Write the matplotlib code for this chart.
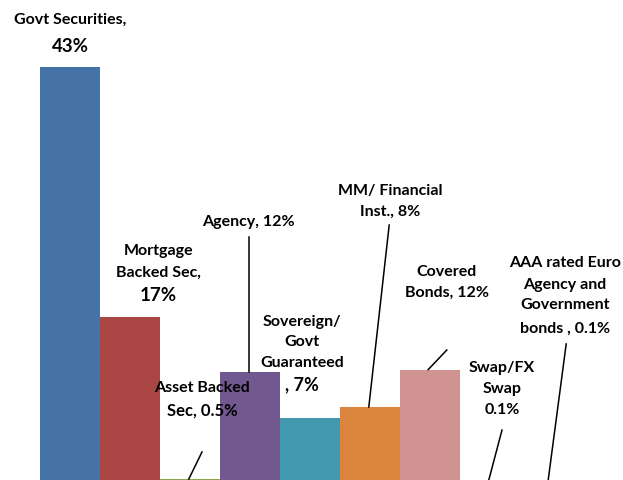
import matplotlib
matplotlib.use("Agg")
import matplotlib.pyplot as plt

# data (share of portfolio, %)
categories = ['Govt Securities', 'Mortgage Backed Sec', 'Asset Backed Sec', 'Agency',
              'Sovereign/Govt Guaranteed', 'MM/ Financial Inst.', 'Covered Bonds',
              'Swap/FX Swap', 'AAA rated Euro Agency and Government bonds']
valores = [43, 17, 0.1, 11.25, 6.5, 7.6, 11.5, 0.0, 0.0]
colores = ['#4572A7', '#AA4643', '#89A54E', '#71588F', '#4198AF',
           '#DB843D', '#D09392', '#93A9CF', '#B9CD96']

# etiquetas: cada linea con (texto, x, y, tamaño)
etiquetas = [
    ('Govt Securities,', 0.0, 47.9, 11.5), ('43%', 0.0, 45.2, 13.5),
    ('Mortgage', 1.47, 23.85, 11.5), ('Backed Sec,', 1.47, 21.56, 11.5), ('17%', 1.47, 19.27, 13.5),
    ('Asset Backed', 2.2, 9.58, 11.5), ('Sec, 0.5%', 2.2, 7.29, 12),
    ('Agency, 12%', 2.97, 26.9, 11.5),
    ('Sovereign/', 3.87, 16.46, 11.5), ('Govt', 3.87, 14.375, 11.5),
    ('Guaranteed', 3.87, 12.19, 11.5), (', 7%', 3.87, 9.9, 13),
    ('MM/ Financial', 5.33, 30.1, 11.5), ('Inst., 8%', 5.33, 27.9, 11.5),
    ('Covered', 6.28, 21.67, 11.5), ('Bonds, 12%', 6.28, 19.48, 11.5),
    ('Swap/FX', 7.2, 11.67, 11.5), ('Swap', 7.2, 9.48, 11.5), ('0.1%', 7.2, 7.29, 11.5),
    ('AAA rated Euro', 8.25, 22.6, 11.5), ('Agency and', 8.25, 20.3, 11.5),
    ('Government', 8.25, 18.23, 11.5), ('bonds , 0.1%', 8.25, 15.73, 11.5),
]

# lineas guia: (x etiqueta, y etiqueta, x barra, indice barra)
guias = [
    (2.2, 2.92, 1.98, 2),
    (2.98, 25.3, 2.98, 3),
    (5.32, 26.56, 4.98, 5),
    (6.28, 13.54, 5.97, 6),
    (7.2, 5.2, 6.98, 7),
    (8.27, 14.17, 7.97, 8),
]

fig = plt.figure(figsize=(6.23, 4.8), dpi=100)
ax = fig.add_axes([0, 0, 1, 1])
x = list(range(len(valores)))
ax.bar(x, valores, width=1.0, color=colores, zorder=2)

for x0, y0, x1, i in guias:
    ax.plot([x0, x1], [y0, valores[i]], color='black', lw=1.1, zorder=3)

for texto, tx, ty, tam in etiquetas:
    ax.text(tx, ty, texto, ha='center', va='center', fontsize=tam,
            fontweight='bold', family='Lato', color='black', zorder=4)

ax.set_xlim(-70 / 60, 553 / 60)
ax.set_ylim(0, 50)
ax.axis('off')
fig.savefig('out.png', dpi=100)
